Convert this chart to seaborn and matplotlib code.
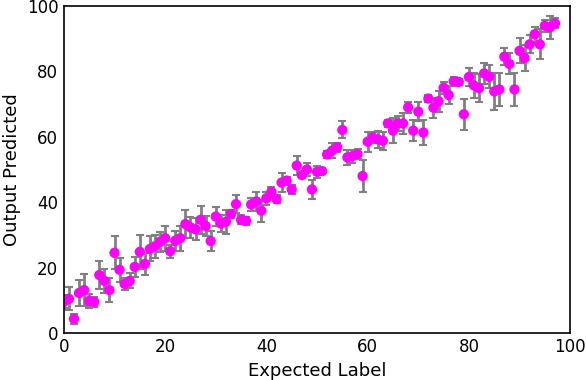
import matplotlib
matplotlib.use("Agg")
import matplotlib.pyplot as plt
import seaborn as sns
import numpy as np
import pandas as pd

expected = list(range(0, 98))
predicted = [9.5, 10.4, 4.3, 12.2, 13.1, 9.8, 9.5, 17.7, 15.9, 13.1,
             24.5, 19.3, 15.0, 15.9, 20.2, 24.8, 21.1, 25.7, 26.5, 27.9,
             29.0, 25.0, 28.2, 29.0, 33.3, 32.3, 31.7, 34.6, 32.7, 28.1,
             35.6, 33.5, 34.0, 36.4, 39.4, 34.6, 34.3, 39.3, 40.2, 37.4,
             41.2, 43.2, 40.9, 46.0, 46.6, 43.9, 51.2, 48.3, 50.0, 43.9,
             49.3, 49.5, 54.6, 55.8, 56.8, 62.1, 53.7, 54.1, 54.7, 48.0,
             58.5, 59.8, 59.2, 58.8, 64.1, 61.9, 64.1, 64.1, 69.0, 61.9,
             67.7, 61.3, 71.7, 68.9, 70.9, 75.0, 72.8, 77.0, 76.8, 66.9,
             78.3, 75.7, 74.9, 79.4, 78.4, 73.9, 74.5, 84.5, 82.3, 74.5,
             86.3, 84.1, 88.3, 91.4, 88.3, 94.0, 93.5, 94.7]
error = [2.0, 3.5, 1.6, 4.0, 4.8, 2.2, 1.5, 4.4, 3.7, 3.8,
         5.1, 3.6, 1.9, 2.3, 3.0, 5.1, 3.3, 3.8, 3.6, 3.0,
         3.8, 2.0, 3.0, 3.8, 4.3, 3.3, 3.4, 4.2, 3.2, 3.0,
         3.0, 2.5, 3.6, 1.3, 2.7, 1.4, 1.2, 2.0, 3.0, 3.4,
         2.0, 1.5, 1.2, 2.8, 1.2, 1.5, 3.0, 1.0, 2.0, 2.8,
         1.8, 1.0, 1.0, 2.3, 1.3, 2.6, 2.2, 2.0, 1.5, 4.8,
         3.0, 1.8, 2.6, 2.8, 1.0, 3.8, 2.2, 3.2, 1.8, 3.1,
         2.8, 3.8, 1.0, 3.1, 3.2, 1.8, 2.7, 1.4, 0.8, 4.8,
         2.9, 3.9, 4.3, 3.2, 3.6, 5.7, 5.1, 2.6, 3.2, 5.1,
         3.8, 3.9, 2.8, 2.3, 4.6, 1.8, 3.6, 1.5]

df = pd.DataFrame({"Expected Label": expected, "Output Predicted": predicted, "err": error})

sns.set_style("white")
plt.rcParams['font.family'] = ['DejaVu Sans']
plt.rcParams['text.color'] = 'black'
plt.rcParams['axes.labelcolor'] = 'black'

fig = plt.figure(figsize=(5.86, 3.80), dpi=100)
ax = fig.add_axes([0.109, 0.124, 0.864, 0.860])

ax.errorbar(df["Expected Label"], df["Output Predicted"], yerr=df["err"],
            fmt="none", ecolor="gray", elinewidth=2, capsize=3, capthick=1.5, zorder=1)
sns.scatterplot(data=df, x="Expected Label", y="Output Predicted", ax=ax,
                color="magenta", s=55, edgecolor="none", zorder=2)

ax.set_xlim(0, 100)
ax.set_ylim(0, 100)
ax.set_xticks([0, 20, 40, 60, 80, 100])
ax.set_yticks([0, 20, 40, 60, 80, 100])
ax.tick_params(direction="in", length=5, width=1, labelsize=12, colors="black", pad=4)
for sp in ax.spines.values():
    sp.set_color("black")
    sp.set_linewidth(1.2)
ax.set_xlabel("Expected Label", fontsize=13, color="black")
ax.set_ylabel("Output Predicted", fontsize=13, color="black")

fig.savefig("out.png", dpi=100)
